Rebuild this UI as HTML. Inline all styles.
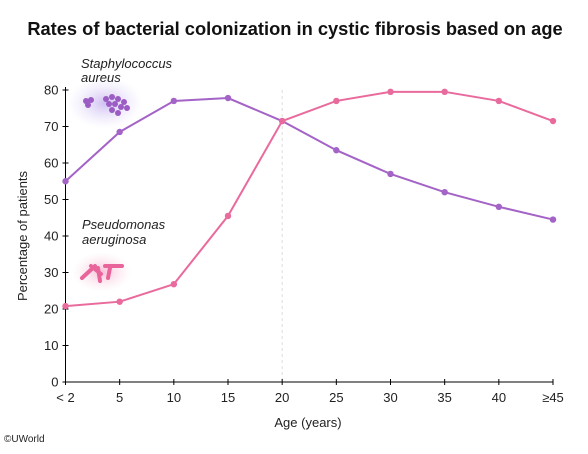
<!DOCTYPE html>
<html><head><meta charset="utf-8"><style>
body{margin:0;background:#fff;font-family:"Liberation Sans",Arial,sans-serif}
svg text{font-family:"Liberation Sans",Arial,sans-serif}
</style></head><body>
<svg id="c" width="588" height="449" viewBox="0 0 588 449">
<defs>
<radialGradient id="gp"><stop offset="0" stop-color="#c9b8f0" stop-opacity="0.9"/><stop offset="1" stop-color="#e8e0fa" stop-opacity="0"/></radialGradient>
<radialGradient id="gk"><stop offset="0" stop-color="#f7b8d2" stop-opacity="0.9"/><stop offset="1" stop-color="#fbe0ec" stop-opacity="0"/></radialGradient>
</defs>
<text x="295" y="35" text-anchor="middle" font-size="18.3" font-weight="bold" fill="#111">Rates of bacterial colonization in cystic fibrosis based on age</text>
<g id="plot"></g>
<text x="308" y="427" text-anchor="middle" font-size="13" fill="#222">Age (years)</text>
<text transform="translate(27,236) rotate(-90)" text-anchor="middle" font-size="13" fill="#222">Percentage of patients</text>
<text x="4" y="442" font-size="10" fill="#222">©UWorld</text>
<g>
<ellipse cx="105" cy="103" rx="38" ry="26" fill="url(#gp)"/>
<text x="81" y="68" font-size="13" font-style="italic" fill="#222">Staphylococcus</text>
<text x="81" y="82" font-size="13" font-style="italic" fill="#222">aureus</text>
<g fill="#9b5cc4"><circle cx="86" cy="101" r="3"/><circle cx="91" cy="100" r="3"/><circle cx="88" cy="105" r="3"/><circle cx="106" cy="99" r="3"/><circle cx="112" cy="97" r="3"/><circle cx="118" cy="99" r="3"/><circle cx="124" cy="102" r="3"/><circle cx="109" cy="104" r="3"/><circle cx="115" cy="104" r="3"/><circle cx="121" cy="107" r="3"/><circle cx="127" cy="108" r="3"/><circle cx="112" cy="110" r="3"/><circle cx="118" cy="113" r="3"/></g>
</g>
<g>
<ellipse cx="102" cy="272" rx="30" ry="20" fill="url(#gk)"/>
<text x="82" y="229" font-size="13" font-style="italic" fill="#222">Pseudomonas</text>
<text x="82" y="244" font-size="13" font-style="italic" fill="#222">aeruginosa</text>
<g stroke="#e8649a" stroke-width="4" stroke-linecap="round"><line x1="82" y1="278" x2="95" y2="266"/><line x1="91" y1="266" x2="101" y2="274"/><line x1="98" y1="268" x2="100" y2="281"/><line x1="105" y1="266" x2="122" y2="266"/><line x1="110" y1="268" x2="108" y2="278"/></g>
</g>
</svg>
<script>
const categories=["< 2","5","10","15","20","25","30","35","40","≥45"];
const staphValues=[55,68.5,77,77.8,71.5,63.5,57,52,48,44.5];
const pseudoValues=[20.8,22,26.8,45.5,71.5,77,79.5,79.5,77,71.5];
const yTicks=[0,10,20,30,40,50,60,70,80];
const NS="http://www.w3.org/2000/svg";
const g=document.getElementById('plot');
const x0=65.5,x1=553,y0=382,y80=90;
const xs=i=>x0+i*(x1-x0)/(categories.length-1);
const ys=v=>y0-(v/80)*(y0-y80);
function mk(t,a,p){const e=document.createElementNS(NS,t);for(const k in a)e.setAttribute(k,a[k]);(p||g).appendChild(e);return e;}
let e=mk('line',{x1:xs(4),x2:xs(4),y1:y80,y2:y0,stroke:'#ddd','stroke-dasharray':'3,3'});


e=mk('line',{x1:x0,x2:x0,y1:y80-3,y2:y0,stroke:'#000'});


e=mk('line',{x1:x0,x2:x1,y1:y0,y2:y0,stroke:'#000'});


yTicks.forEach(v=>{
 mk('line',{x1:x0-3,x2:x0+3,y1:ys(v),y2:ys(v),stroke:'#000'});
 const t=mk('text',{x:x0-7,y:ys(v)+4.5,'text-anchor':'end','font-size':'13',fill:'#222'});
 t.textContent=v;
 
 
});
categories.forEach((c,i)=>{
 mk('line',{x1:xs(i),x2:xs(i),y1:y0-3,y2:y0+3,stroke:'#000'});
 const t=mk('text',{x:xs(i),y:y0+20,'text-anchor':'middle','font-size':'13',fill:'#222'});
 t.textContent=c;
 
 
});
function series(vals,col,name){
 const p=mk('polyline',{points:vals.map((v,i)=>xs(i)+','+ys(v)).join(' '),fill:'none',stroke:col,'stroke-width':'2'});
 
 
 vals.forEach((v,i)=>{
  const c=mk('circle',{cx:xs(i),cy:ys(v),r:3.2,fill:col});
  
  
 });
}
series(staphValues,'#a463c6','staph');
series(pseudoValues,'#e96a9c','pseudomonas');
</script>
</body></html>
